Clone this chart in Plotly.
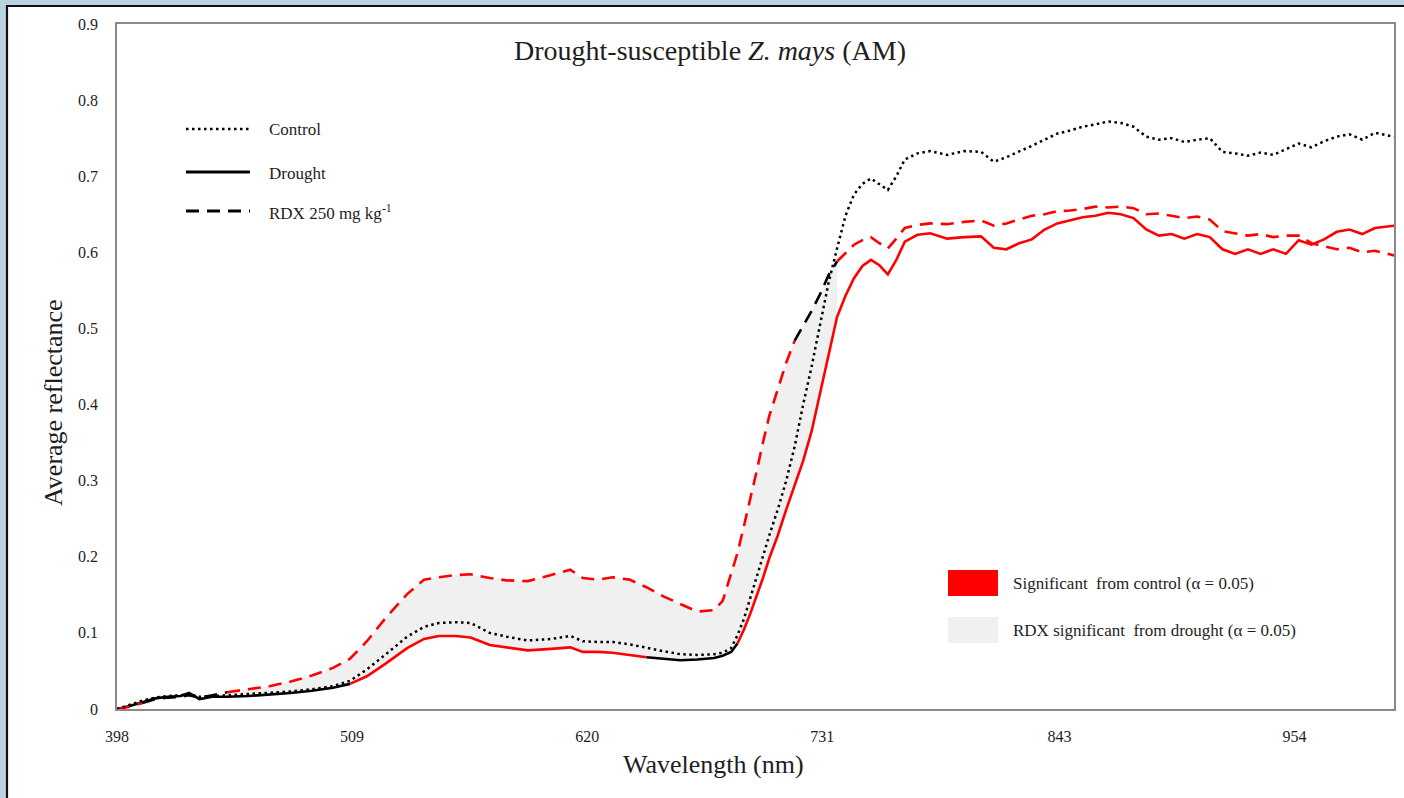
import plotly.graph_objects as go

# ---------------- data ----------------
WAVELENGTH = [
    398, 404, 410, 416, 422, 428, 432, 437, 443, 450,
    460, 470, 480, 490, 500, 508, 516, 525, 535, 543,
    550, 558, 565, 574, 582, 592, 603, 612, 618, 625,
    632, 640, 648, 656, 664, 672, 680, 684, 688, 691,
    694, 697, 700, 703, 706, 710, 714, 718, 722, 726,
    730, 734, 738, 742, 746, 750, 754, 758, 762, 766,
    770, 776, 782, 790, 798, 806, 812, 818, 824, 830,
    836, 842, 848, 854, 860, 866, 872, 878, 884, 890,
    896, 902, 908, 914, 920, 926, 932, 938, 944, 950,
    956, 962, 968, 974, 980, 986, 992, 1001,
]

CONTROL = [
    0.000, 0.006, 0.011, 0.015, 0.017, 0.018, 0.020, 0.016, 0.017, 0.018,
    0.019, 0.021, 0.023, 0.026, 0.030, 0.037, 0.052, 0.072, 0.095, 0.108,
    0.113, 0.114, 0.113, 0.100, 0.095, 0.090, 0.092, 0.096, 0.089, 0.088,
    0.088, 0.085, 0.080, 0.076, 0.072, 0.071, 0.072, 0.074, 0.080, 0.097,
    0.118, 0.146, 0.172, 0.200, 0.228, 0.262, 0.300, 0.345, 0.400, 0.450,
    0.505, 0.560, 0.605, 0.648, 0.676, 0.690, 0.697, 0.690, 0.682, 0.700,
    0.722, 0.730, 0.733, 0.728, 0.733, 0.732, 0.719, 0.725, 0.732, 0.740,
    0.748, 0.756, 0.760, 0.765, 0.768, 0.772, 0.770, 0.765, 0.752, 0.748,
    0.750, 0.745, 0.748, 0.750, 0.732, 0.730, 0.727, 0.731, 0.728, 0.736,
    0.743, 0.738, 0.746, 0.752, 0.755, 0.748, 0.757, 0.752,
]

DROUGHT = [
    0.000, 0.004, 0.009, 0.014, 0.016, 0.017, 0.021, 0.013, 0.016, 0.016,
    0.017, 0.019, 0.021, 0.024, 0.028, 0.033, 0.043, 0.060, 0.080, 0.092,
    0.096, 0.096, 0.094, 0.084, 0.081, 0.077, 0.079, 0.081, 0.075, 0.075,
    0.074, 0.071, 0.068, 0.066, 0.064, 0.065, 0.067, 0.070, 0.075, 0.086,
    0.104, 0.125, 0.148, 0.172, 0.198, 0.228, 0.262, 0.294, 0.326, 0.365,
    0.415, 0.468, 0.515, 0.543, 0.566, 0.582, 0.590, 0.583, 0.571, 0.590,
    0.614, 0.623, 0.625, 0.618, 0.620, 0.621, 0.606, 0.604, 0.612, 0.617,
    0.630, 0.638, 0.642, 0.646, 0.648, 0.652, 0.650, 0.645, 0.630, 0.622,
    0.624, 0.618, 0.624, 0.620, 0.604, 0.598, 0.604, 0.598, 0.604, 0.598,
    0.616, 0.610, 0.617, 0.627, 0.630, 0.624, 0.632, 0.635,
]

RDX = [
    0.000, 0.003, 0.008, 0.013, 0.015, 0.016, 0.018, 0.015, 0.018, 0.022,
    0.026, 0.030, 0.036, 0.044, 0.054, 0.066, 0.089, 0.120, 0.151, 0.170,
    0.173, 0.176, 0.177, 0.172, 0.169, 0.168, 0.176, 0.183, 0.172, 0.170,
    0.173, 0.170, 0.160, 0.148, 0.138, 0.128, 0.130, 0.142, 0.178, 0.205,
    0.240, 0.275, 0.312, 0.350, 0.385, 0.420, 0.455, 0.484, 0.503, 0.523,
    0.545, 0.570, 0.588, 0.599, 0.610, 0.616, 0.620, 0.612, 0.605, 0.618,
    0.632, 0.636, 0.638, 0.637, 0.640, 0.642, 0.635, 0.638, 0.643, 0.648,
    0.650, 0.654, 0.655, 0.657, 0.660, 0.659, 0.660, 0.658, 0.650, 0.651,
    0.648, 0.645, 0.647, 0.643, 0.628, 0.625, 0.622, 0.624, 0.620, 0.622,
    0.622, 0.612, 0.608, 0.604, 0.606, 0.600, 0.602, 0.596,
]

# wavelength ranges (nm) and whether significant from control (red) or not (black)
DROUGHT_SEGMENTS = [(398, 508, False), (508, 648, True), (648, 691, False), (691, 1001, True)]
RDX_SEGMENTS = [(398, 410, True), (410, 450, False), (450, 718, True), (718, 738, False), (738, 1001, True)]
RDX_VS_DROUGHT_RANGE = (450, 738)

X_TICKS = [398, 509, 620, 731, 843, 954]
Y_TICKS = [0, 0.1, 0.2, 0.3, 0.4, 0.5, 0.6, 0.7, 0.8, 0.9]

TITLE = "Drought-susceptible <i>Z. mays</i> (AM)"
X_TITLE = "Wavelength (nm)"
Y_TITLE = "Average reflectance"
LINE_LEGEND = ["Control", "Drought", "RDX 250 mg kg<sup>-1</sup>"]
BOX_LEGEND = ["Significant  from control (α = 0.05)", "RDX significant  from drought (α = 0.05)"]

# ---------------- styling ----------------
W, H = 1404, 798
ML, MR, MT, MB = 117, 10, 24, 89
PW, PH = W - ML - MR, H - MT - MB
FONT = "Liberation Serif, Times New Roman, serif"
TXT = "#1e1e1e"
RED = "#ff0000"
BLACK = "#000000"
FILL = "rgb(240,240,240)"
AXIS = "#8a8a8a"
DOT = "2.5px,3.5px"
DASH = "13px,8px"


def px(x):
    return (x - ML) / PW


def py(y):
    return (H - MB - y) / PH


def subset(lo, hi, ys):
    xs_out, ys_out = [], []
    for x, y in zip(WAVELENGTH, ys):
        if lo <= x <= hi:
            xs_out.append(x)
            ys_out.append(y)
    return xs_out, ys_out


fig = go.Figure()

# shaded area: RDX significant from drought
lo, hi = RDX_VS_DROUGHT_RANGE
fx, fd = subset(lo, hi, DROUGHT)
_, fr = subset(lo, hi, RDX)
fig.add_trace(go.Scatter(x=fx, y=fd, mode="lines", line=dict(width=0, color=FILL),
                         showlegend=False, hoverinfo="skip"))
fig.add_trace(go.Scatter(x=fx, y=fr, mode="lines", line=dict(width=0, color=FILL),
                         fill="tonexty", fillcolor=FILL, showlegend=False, hoverinfo="skip"))

# drought (solid)
for lo, hi, sig in DROUGHT_SEGMENTS:
    sx, sy = subset(lo, hi, DROUGHT)
    fig.add_trace(go.Scatter(x=sx, y=sy, mode="lines", name="Drought", showlegend=False,
                             line=dict(color=RED if sig else BLACK, width=2.6)))

# RDX (dashed)
for lo, hi, sig in RDX_SEGMENTS:
    sx, sy = subset(lo, hi, RDX)
    fig.add_trace(go.Scatter(x=sx, y=sy, mode="lines", name="RDX", showlegend=False,
                             line=dict(color=RED if sig else BLACK, width=2.6, dash=DASH)))

# control (dotted)
fig.add_trace(go.Scatter(x=WAVELENGTH, y=CONTROL, mode="lines", name="Control", showlegend=False,
                         line=dict(color=BLACK, width=2.5, dash=DOT)))

shapes = []
# slide background strips and frame
shapes.append(dict(type="rect", xref="paper", yref="paper", x0=px(0), x1=px(7), y0=py(H), y1=py(0),
                   fillcolor="#b9d3e0", line=dict(width=0), layer="below"))
shapes.append(dict(type="rect", xref="paper", yref="paper", x0=px(0), x1=px(W), y0=py(6), y1=py(0),
                   fillcolor="#b9d3e0", line=dict(width=0), layer="below"))
shapes.append(dict(type="line", xref="paper", yref="paper", x0=px(7), x1=px(7), y0=py(H), y1=py(6),
                   line=dict(color="#111", width=2.2)))
shapes.append(dict(type="line", xref="paper", yref="paper", x0=px(6), x1=px(W), y0=py(6), y1=py(6),
                   line=dict(color="#111", width=2.2)))

annotations = []
# line legend (top-left)
leg_y = [129, 172, 211]
leg_style = [dict(color=BLACK, width=2.6, dash=DOT), dict(color=BLACK, width=3), dict(color=BLACK, width=2.8, dash=DASH)]
for label, yy, st in zip(LINE_LEGEND, leg_y, leg_style):
    shapes.append(dict(type="line", xref="paper", yref="paper", x0=px(186), x1=px(250),
                       y0=py(yy), y1=py(yy), line=st))
    annotations.append(dict(text=label, xref="paper", yref="paper", x=px(267), y=py(yy + 1),
                            xanchor="left", yanchor="middle", showarrow=False,
                            font=dict(family=FONT, size=17, color=TXT)))

# box legend (bottom-right)
box_y = [(570, 596), (617, 643)]
box_fill = [RED, FILL]
for label, (y0, y1), col in zip(BOX_LEGEND, box_y, box_fill):
    shapes.append(dict(type="rect", xref="paper", yref="paper", x0=px(948), x1=px(998),
                       y0=py(y1), y1=py(y0), fillcolor=col, line=dict(width=0)))
    annotations.append(dict(text=label, xref="paper", yref="paper", x=px(1011), y=py((y0 + y1) / 2),
                            xanchor="left", yanchor="middle", showarrow=False,
                            font=dict(family=FONT, size=17, color=TXT)))

# title and axis titles
annotations.append(dict(text=TITLE, xref="paper", yref="paper", x=px(710), y=py(50),
                        xanchor="center", yanchor="middle", showarrow=False,
                        font=dict(family=FONT, size=28, color=TXT)))
annotations.append(dict(text=X_TITLE, xref="paper", yref="paper", x=px(713), y=py(764),
                        xanchor="center", yanchor="middle", showarrow=False,
                        font=dict(family=FONT, size=26, color=TXT)))
annotations.append(dict(text=Y_TITLE, xref="paper", yref="paper", x=px(53), y=py(403),
                        xanchor="center", yanchor="middle", showarrow=False, textangle=-90,
                        font=dict(family=FONT, size=26, color=TXT)))

fig.update_layout(
    width=W, height=H,
    margin=dict(l=ML, r=MR, t=MT, b=MB, autoexpand=False),
    paper_bgcolor="white", plot_bgcolor="white",
    shapes=shapes, annotations=annotations,
    showlegend=False,
    font=dict(family=FONT, color=TXT),
)
fig.update_xaxes(range=[398, 1001], tickvals=X_TICKS, ticktext=[str(v) for v in X_TICKS],
                 showgrid=False, zeroline=False, showline=True, linecolor=AXIS, linewidth=1.6,
                 mirror=True, ticks="", ticklabelstandoff=12,
                 tickfont=dict(family=FONT, size=16, color=TXT))
fig.update_yaxes(range=[0, 0.9], tickvals=Y_TICKS, ticktext=["0"] + [f"{v:.1f}" for v in Y_TICKS[1:]],
                 showgrid=False, zeroline=False, showline=True, linecolor=AXIS, linewidth=1.6,
                 mirror=True, ticks="", ticklabelstandoff=14,
                 tickfont=dict(family=FONT, size=16, color=TXT))

fig.write_html("out.html")
